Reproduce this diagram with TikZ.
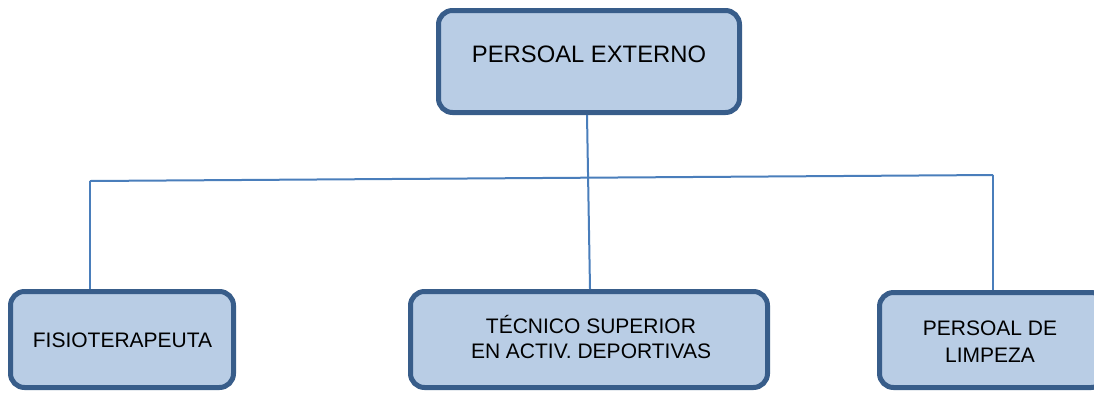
\documentclass[tikz,border=0pt]{standalone}
\usepackage{fontspec}
\setmainfont{Liberation Sans}
\definecolor{boxfill}{HTML}{B9CDE5}
\definecolor{boxline}{HTML}{385D8A}
\definecolor{conn}{HTML}{4A7EBB}
\tikzset{
  orgbox/.style={draw=boxline, fill=boxfill, line width=5pt, rounded corners=14pt, inner sep=0pt},
  bigtext/.style={font=\fontsize{23.8}{27}\selectfont, inner sep=0pt, anchor=base},
  smalltext/.style={font=\fontsize{21}{25}\selectfont, inner sep=0pt, anchor=base, align=center},
  link/.style={draw=conn, line width=2pt}
}
\begin{document}
\begin{tikzpicture}[x=1pt,y=-1pt]
\useasboundingbox (0,0) rectangle (1094,392);
\clip (0,0) rectangle (1094,392);
% connectors
\coordinate (hl) at (90,181);
\coordinate (hr) at (993,175);
% boxes
\node[orgbox, minimum width=301pt, minimum height=102pt] (top) at (589,61.5) {};
\node[orgbox, minimum width=223pt, minimum height=96pt] (fis) at (122,339.5) {};
\node[orgbox, minimum width=357pt, minimum height=96pt] (tec) at (589,339.5) {};
\node[orgbox, minimum width=225.5pt, minimum height=95pt] (lim) at (992.25,340) {};
% connectors
\draw[link] ([xshift=-2pt]top.south) -- ([xshift=1pt]tec.north);
\draw[link] (hl) -- (hr);
\draw[link] (hl) -- (hl |- fis.north);
\draw[link] (hr) -- (hr |- lim.north);
% texts
\node[bigtext] (ttop) at (589,62) {PERSOAL EXTERNO};
\node[smalltext] (tfis) at (122.5,347) {FISIOTERAPEUTA};
\node[smalltext] (ttec) at (591,358) {TÉCNICO SUPERIOR\\EN ACTIV. DEPORTIVAS};
\node[smalltext, font=\fontsize{21}{27}\selectfont] (tlim) at (990,362) {PERSOAL DE\\LIMPEZA};
\end{tikzpicture}
\end{document}
